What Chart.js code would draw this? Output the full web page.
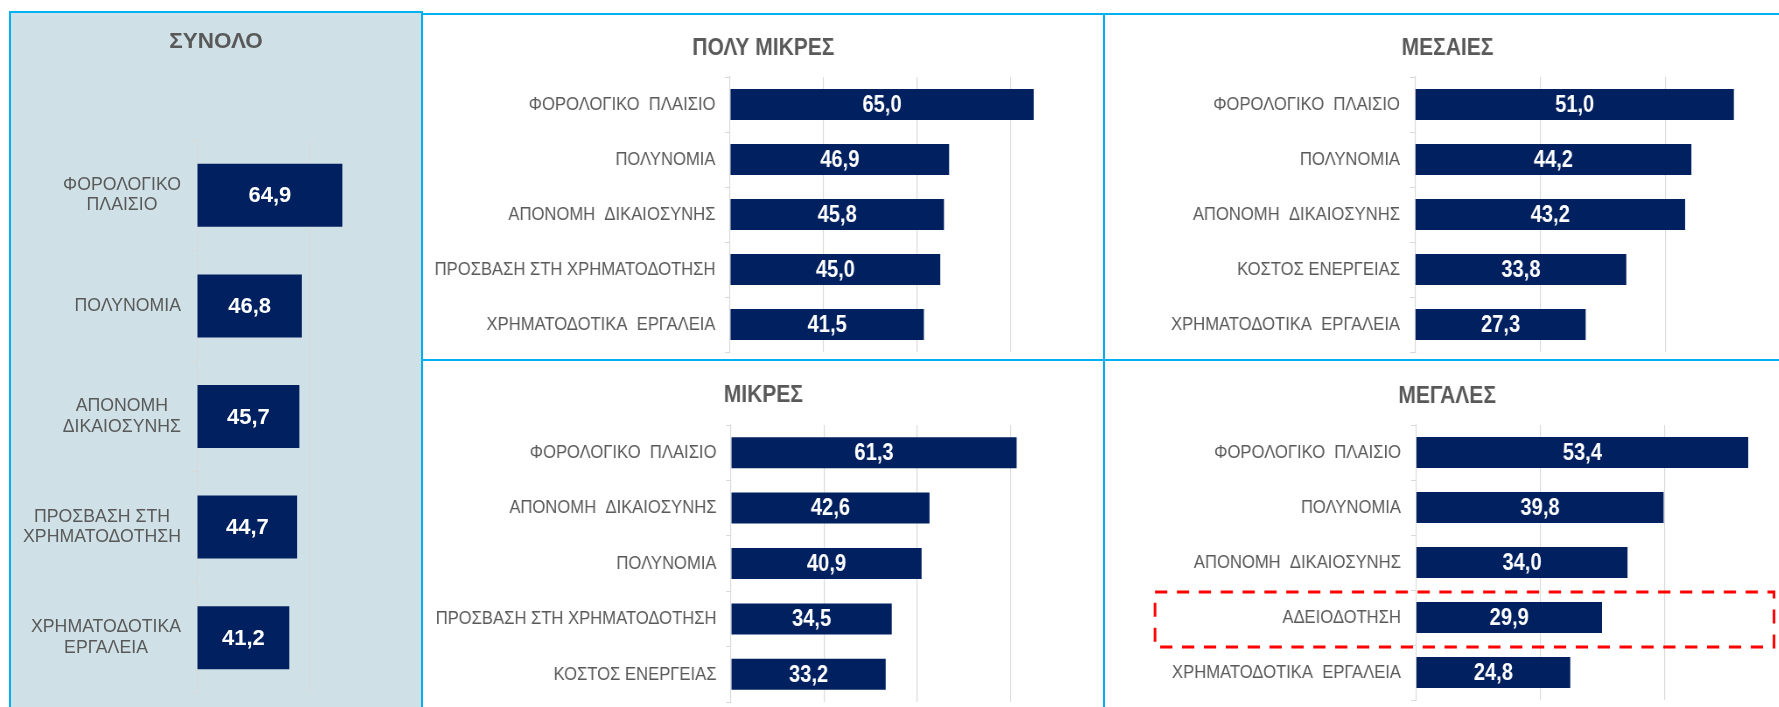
<!DOCTYPE html>
<html lang="el">
<head>
<meta charset="UTF-8">
<title>Εμπόδια ανά μέγεθος επιχείρησης</title>
<script src="https://cdn.jsdelivr.net/npm/chart.js"></script>
<style>
  html, body { margin: 0; padding: 0; background: #fff; overflow: hidden; }
  body { width: 1779px; height: 707px; position: relative; }
  canvas, .ln, .bg { position: absolute; }
  canvas { transform-origin: 0 0; }
  .bg { left: 11px; top: 13px; width: 410px; height: 694px; background: #cfe1e7; }
  .ln { background: #00b0f0; z-index: 2; }
</style>
</head>
<body>
<div class="bg"></div>
<canvas id="total" style="left:11px;top:13px"></canvas>
<canvas id="verySmall" style="left:423px;top:15px"></canvas>
<canvas id="medium" style="left:1105px;top:15px"></canvas>
<canvas id="small" style="left:423px;top:361px"></canvas>
<canvas id="large" style="left:1105px;top:361px"></canvas>

<!-- panel frames -->
<div class="ln" style="left:9px;top:11px;width:414px;height:2px"></div>
<div class="ln" style="left:9px;top:11px;width:2px;height:696px"></div>
<div class="ln" style="left:421px;top:12px;width:2px;height:695px"></div>
<div class="ln" style="left:421px;top:13px;width:1358px;height:2px"></div>
<div class="ln" style="left:421px;top:359px;width:1358px;height:2px"></div>
<div class="ln" style="left:1103px;top:13px;width:2px;height:694px"></div>

<script>
// ---- data ----
var totalTitle = 'ΣΥΝΟΛΟ';
var totalLabels = [['ΦΟΡΟΛΟΓΙΚΟ', 'ΠΛΑΙΣΙΟ'], ['ΠΟΛΥΝΟΜΙΑ'], ['ΑΠΟΝΟΜΗ', 'ΔΙΚΑΙΟΣΥΝΗΣ'],
                   ['ΠΡΟΣΒΑΣΗ ΣΤΗ', 'ΧΡΗΜΑΤΟΔΟΤΗΣΗ'], ['ΧΡΗΜΑΤΟΔΟΤΙΚΑ', 'ΕΡΓΑΛΕΙΑ']];
var totalValues = [64.9, 46.8, 45.7, 44.7, 41.2];

var verySmallTitle = 'ΠΟΛΥ ΜΙΚΡΕΣ';
var verySmallLabels = ['ΦΟΡΟΛΟΓΙΚΟ  ΠΛΑΙΣΙΟ', 'ΠΟΛΥΝΟΜΙΑ', 'ΑΠΟΝΟΜΗ  ΔΙΚΑΙΟΣΥΝΗΣ',
                       'ΠΡΟΣΒΑΣΗ ΣΤΗ ΧΡΗΜΑΤΟΔΟΤΗΣΗ', 'ΧΡΗΜΑΤΟΔΟΤΙΚΑ  ΕΡΓΑΛΕΙΑ'];
var verySmallValues = [65.0, 46.9, 45.8, 45.0, 41.5];

var mediumTitle = 'ΜΕΣΑΙΕΣ';
var mediumLabels = ['ΦΟΡΟΛΟΓΙΚΟ  ΠΛΑΙΣΙΟ', 'ΠΟΛΥΝΟΜΙΑ', 'ΑΠΟΝΟΜΗ  ΔΙΚΑΙΟΣΥΝΗΣ',
                    'ΚΟΣΤΟΣ ΕΝΕΡΓΕΙΑΣ', 'ΧΡΗΜΑΤΟΔΟΤΙΚΑ  ΕΡΓΑΛΕΙΑ'];
var mediumValues = [51.0, 44.2, 43.2, 33.8, 27.3];

var smallTitle = 'ΜΙΚΡΕΣ';
var smallLabels = ['ΦΟΡΟΛΟΓΙΚΟ  ΠΛΑΙΣΙΟ', 'ΑΠΟΝΟΜΗ  ΔΙΚΑΙΟΣΥΝΗΣ', 'ΠΟΛΥΝΟΜΙΑ',
                   'ΠΡΟΣΒΑΣΗ ΣΤΗ ΧΡΗΜΑΤΟΔΟΤΗΣΗ', 'ΚΟΣΤΟΣ ΕΝΕΡΓΕΙΑΣ'];
var smallValues = [61.3, 42.6, 40.9, 34.5, 33.2];

var largeTitle = 'ΜΕΓΑΛΕΣ';
var largeLabels = ['ΦΟΡΟΛΟΓΙΚΟ  ΠΛΑΙΣΙΟ', 'ΠΟΛΥΝΟΜΙΑ', 'ΑΠΟΝΟΜΗ  ΔΙΚΑΙΟΣΥΝΗΣ',
                   'ΑΔΕΙΟΔΟΤΗΣΗ', 'ΧΡΗΜΑΤΟΔΟΤΙΚΑ  ΕΡΓΑΛΕΙΑ'];
var largeValues = [53.4, 39.8, 34.0, 29.9, 24.8];
var largeHighlight = 3; // ΑΔΕΙΟΔΟΤΗΣΗ

// ---- styling ----
var BAR = '#002060';
var GREY = '#595959';
var GRID = '#d9d9d9';
var SANS = "'Liberation Sans', Arial, sans-serif";
// no narrow font installed: the four small panels are squeezed horizontally instead
var NARROW_K = 0.875;

// value inside each bar, comma decimal
var valueLabels = {
    id: 'valueLabels',
    afterDatasetsDraw(chart, args, opts) {
        const ctx = chart.ctx;
        const meta = chart.getDatasetMeta(0);
        ctx.save();
        ctx.font = opts.font;
        ctx.fillStyle = '#ffffff';
        ctx.textAlign = 'center';
        ctx.textBaseline = 'middle';
        meta.data.forEach((bar, i) => {
            const v = chart.data.datasets[0].data[i];
            ctx.fillText(v.toFixed(1).replace('.', ','), (bar.x + bar.base) / 2, bar.y + 1);
        });
        ctx.restore();
    }
};
Chart.register(valueLabels);

// multi-line labels, block right aligned, lines centred (like the excel text boxes)
var centredLabels = {
    id: 'centredLabels',
    afterDraw(chart, args, opts) {
        const ctx = chart.ctx;
        const sc = chart.scales.y;
        ctx.save();
        ctx.font = opts.font;
        ctx.fillStyle = GREY;
        ctx.textAlign = 'center';
        ctx.textBaseline = 'middle';
        chart.data.labels.forEach((lines, i) => {
            const y = sc.getPixelForValue(i);
            const w = Math.max(...lines.map(l => ctx.measureText(l).width));
            const cx = sc.right - opts.gap - w / 2;
            lines.forEach((l, j) => {
                ctx.fillText(l, cx, y + (j - (lines.length - 1) / 2) * opts.lineHeight);
            });
        });
        ctx.restore();
    }
};

// red dashed frame round one category
var dashedBox = {
    id: 'dashedBox',
    afterDraw(chart, args, opts) {
        const ctx = chart.ctx;
        const sc = chart.scales.y;
        const y = sc.getPixelForValue(opts.index);
        const half = (sc.bottom - sc.top) / chart.data.labels.length / 2;
        ctx.save();
        ctx.strokeStyle = '#ff0000';
        ctx.lineWidth = 3;
        ctx.setLineDash([14, 11]);
        ctx.strokeRect(opts.left, y - half + 2, opts.right - opts.left, half * 2);
        ctx.restore();
    }
};

// o.* sizes are page pixels; k squeezes the canvas horizontally
function barChart(id, title, labels, values, o) {
    const k = o.k || 1;
    const cv = document.getElementById(id);
    cv.width = Math.round(o.w / k);
    cv.height = o.h;
    if (k !== 1) cv.style.transform = 'scaleX(' + k + ')';
    if (o.box) { o.box.left /= k; o.box.right /= k; }

    return new Chart(cv, {
        type: 'bar',
        data: {
            labels: labels,
            datasets: [{
                data: values,
                backgroundColor: BAR,
                borderWidth: 0,
                barPercentage: o.bar,
                categoryPercentage: 1
            }]
        },
        plugins: o.extra || [],
        options: {
            indexAxis: 'y',
            responsive: false,
            animation: false,
            layout: { padding: { top: 0, left: 0, right: 0, bottom: o.bottom } },
            plugins: {
                legend: { display: false },
                tooltip: { enabled: false },
                title: {
                    display: true,
                    text: title,
                    color: GREY,
                    font: o.titleFont,
                    padding: o.titlePad
                },
                valueLabels: { font: o.valueFont },
                centredLabels: o.centred || {},
                dashedBox: o.box || {}
            },
            scales: {
                x: {
                    min: 0,
                    max: o.max,
                    ticks: { display: false, stepSize: o.step },
                    border: { display: false },
                    grid: {
                        drawTicks: false,
                        lineWidth: 1 / k,
                        color: c => (c.tick && c.tick.value > 0 && c.tick.value < o.max) ? GRID : 'transparent'
                    }
                },
                y: {
                    grid: { drawOnChartArea: false, tickLength: 5 / k, color: GRID, offset: true },
                    border: { display: true, color: GRID, width: 1 / k },
                    ticks: {
                        display: o.ticks !== false,
                        autoSkip: false,
                        color: GREY,
                        font: o.labelFont,
                        padding: (o.tickPad || 0) / k
                    },
                    afterFit: s => { s.width = o.axisW / k; s.paddingTop = 0; s.paddingBottom = 0; }
                }
            }
        }
    });
}

var smallTitleFont = { family: SANS, size: 24, weight: 'bold' };
var smallLabelFont = { family: SANS, size: 19 };
var smallValueFont = 'bold 23px ' + SANS;

barChart('total', totalTitle, totalLabels, totalValues, {
    w: 410, h: 694,
    bar: 0.57, max: 100, step: 50, axisW: 186, bottom: 14, ticks: false,
    titleFont: { family: SANS, size: 22.5, weight: 'bold' },
    titlePad: { top: 15.7, bottom: 84.3 },
    valueFont: 'bold 22px ' + SANS,
    centred: { font: '17.7px ' + SANS, gap: 16, lineHeight: 20.5 },
    extra: [centredLabels]
});

barChart('verySmall', verySmallTitle, verySmallLabels, verySmallValues, {
    w: 681, h: 345, k: NARROW_K,
    bar: 0.56, max: 80, step: 20, axisW: 307, bottom: 8, tickPad: 9.5,
    titleFont: smallTitleFont, titlePad: { top: 19, bottom: 14.2 },
    labelFont: smallLabelFont, valueFont: smallValueFont
});

barChart('medium', mediumTitle, mediumLabels, mediumValues, {
    w: 685, h: 345, k: NARROW_K,
    bar: 0.56, max: 60, step: 20, axisW: 310, bottom: 8, tickPad: 10,
    titleFont: smallTitleFont, titlePad: { top: 19, bottom: 14.2 },
    labelFont: smallLabelFont, valueFont: smallValueFont
});

barChart('small', smallTitle, smallLabels, smallValues, {
    w: 681, h: 346, k: NARROW_K,
    bar: 0.56, max: 80, step: 20, axisW: 308, bottom: 5, tickPad: 9.5,
    titleFont: smallTitleFont, titlePad: { top: 20, bottom: 15.2 },
    labelFont: smallLabelFont, valueFont: smallValueFont
});

barChart('large', largeTitle, largeLabels, largeValues, {
    w: 684, h: 346, k: NARROW_K,
    bar: 0.56, max: 60, step: 20, axisW: 311, bottom: 7, tickPad: 10,
    titleFont: smallTitleFont, titlePad: { top: 20.5, bottom: 14.7 },
    labelFont: smallLabelFont, valueFont: smallValueFont,
    box: { index: largeHighlight, left: 50, right: 669 },
    extra: [dashedBox]
});
</script>
</body>
</html>
